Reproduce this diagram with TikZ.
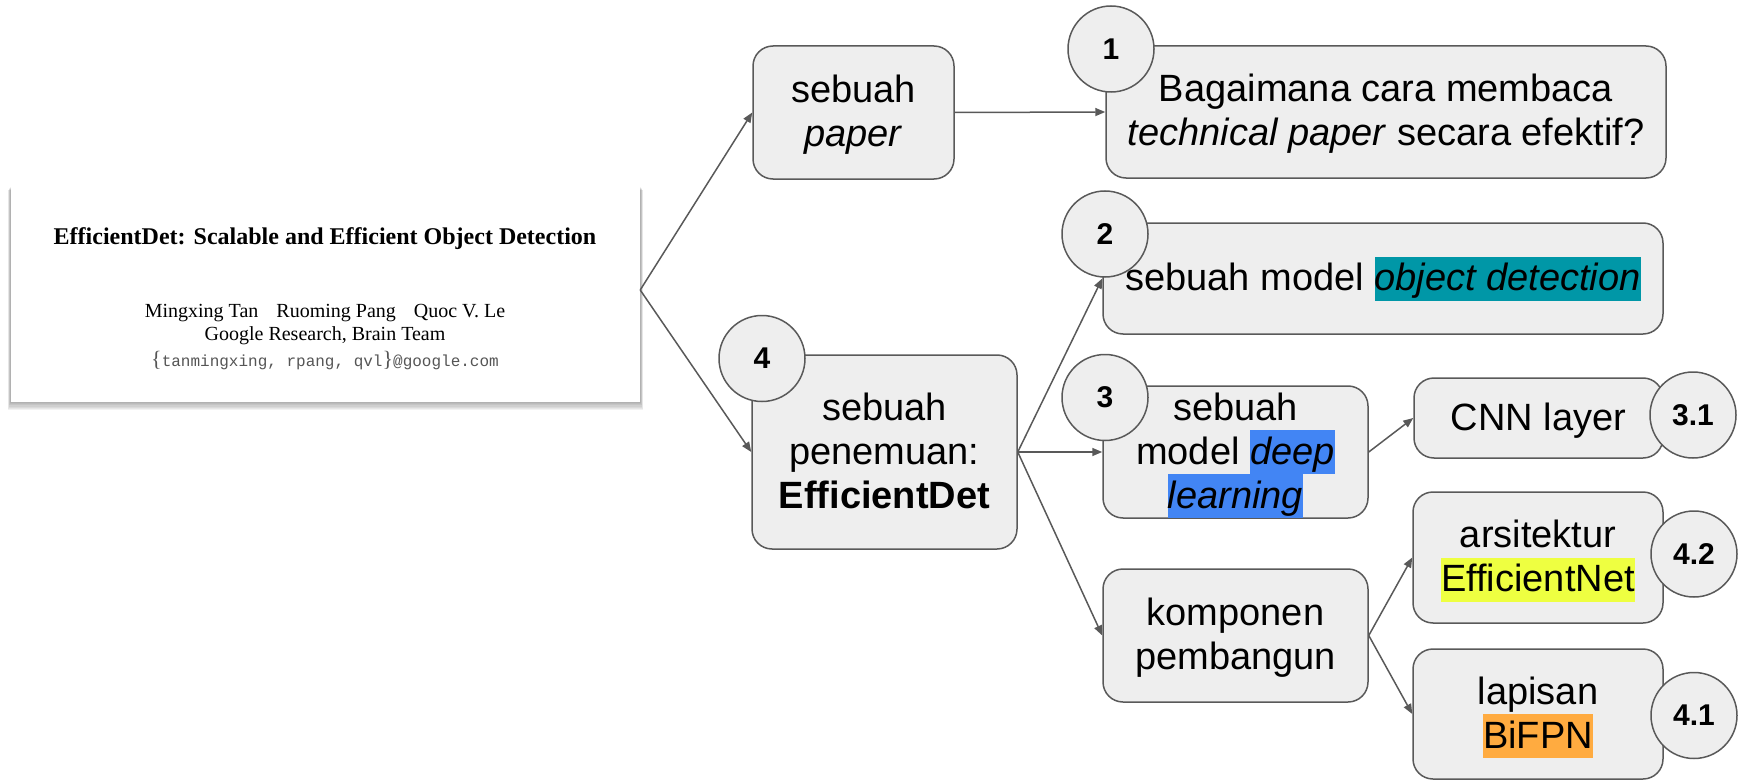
\documentclass[tikz,border=0pt]{standalone}
\usepackage{fontspec}
\setmainfont{Liberation Sans}
\newfontfamily\paperserif{Liberation Serif}
\newfontfamily\papermono{Liberation Mono}
\usetikzlibrary{arrows.meta}
\definecolor{boxfill}{HTML}{EEEEEE}
\definecolor{boxline}{HTML}{595959}
\definecolor{hlteal}{HTML}{0097A7}
\definecolor{hlblue}{HTML}{4285F4}
\definecolor{hlyellow}{HTML}{EEFF41}
\definecolor{hlorange}{HTML}{FFAB40}
\definecolor{papergray}{HTML}{555555}
\newcommand{\gs}{\rule[-10pt]{0pt}{44pt}}
\newcommand{\hlt}[2]{{\setlength{\fboxsep}{0pt}\colorbox{#1}{\gs#2}}}
\begin{document}
\begin{tikzpicture}[x=1pt,y=-1pt,
  card/.style={draw=boxline, fill=boxfill, line width=1.5pt, rounded corners=20pt,
    inner sep=0pt, align=center, font=\fontsize{38}{44}\selectfont},
  badge/.style={circle, draw=boxline, fill=boxfill, line width=1.5pt,
    minimum size=86pt, inner sep=0pt, font=\bfseries\fontsize{30}{34}\selectfont},
  link/.style={draw=boxline, line width=1.5pt, -{Triangle[length=10pt,width=8pt]}},
  papertext/.style={inner sep=0pt, align=center}]
\useasboundingbox (0,0) rectangle (1743,781);

% paper thumbnail with soft shadow
\foreach \k in {1,...,8}{
  \fill[black, opacity=0.05] (11-\k*0.4,186+\k*0.5) rectangle (640+\k*0.4,401+\k*1.1);
}
\node[fill=white, minimum width=629pt, minimum height=224pt, inner sep=0pt]
  (paper) at (325.5,290) {};
\node[papertext, font=\paperserif\bfseries\fontsize{24}{28}\selectfont] (ptitle) at (325,239)
  {EfficientDet: Scalable and Efficient Object Detection};
\node[papertext, font=\paperserif\fontsize{20}{24}\selectfont] (pauth) at (325,313)
  {Mingxing Tan\hspace{18pt}Ruoming Pang\hspace{18pt}Quoc V. Le};
\node[papertext, font=\paperserif\fontsize{20}{24}\selectfont] (paff) at (325,336)
  {Google Research, Brain Team};
\node[papertext, text=papergray, font=\papermono\fontsize{16}{20}\selectfont] (pmail) at (325,361)
  {{\paperserif\fontsize{22}{22}\selectfont\{}tanmingxing, rpang, qvl{\paperserif\fontsize{22}{22}\selectfont\}}@google.com};

% boxes
\node[card, minimum width=201pt, minimum height=133pt] (paperq) at (853.5,112.5)
  {\gs sebuah\\\gs\textit{paper}};
\node[card, minimum width=560pt, minimum height=132pt] (b1) at (1386,112)
  {\gs Bagaimana cara membaca\\\gs\textit{technical paper} secara efektif?};
\node[card, minimum width=560pt, minimum height=111pt] (b2) at (1383,278.5)
  {\gs sebuah model \hlt{hlteal}{\textit{object detection}}};
\node[card, minimum width=265pt, minimum height=194pt] (b4) at (884.5,452)
  {\gs sebuah\\\gs penemuan:\\\gs\textbf{EfficientDet}};
\node[card, minimum width=265pt, minimum height=132pt] (b3) at (1235.5,452)
  {\gs sebuah\\\gs model \hlt{hlblue}{\textit{deep}}\\\hlt{hlblue}{\textit{learning}}};
\node[card, minimum width=249pt, minimum height=80pt] (cnn) at (1538.5,418)
  {\gs CNN layer};
\node[card, minimum width=265pt, minimum height=133pt] (komp) at (1235.5,635.5)
  {\gs komponen\\\gs pembangun};
\node[card, minimum width=250pt, minimum height=131pt] (arsi) at (1538,557.5)
  {\gs arsitektur\\\hlt{hlyellow}{EfficientNet}};
\node[card, minimum width=250pt, minimum height=130pt] (lapi) at (1538,714)
  {\gs lapisan\\\hlt{hlorange}{BiFPN}};

% connectors
\draw[link] (paper.east) -- (paperq.west);
\draw[link] (paper.east) -- (b4.west);
\draw[link] (paperq.east) -- (b1.west);
\draw[link] (b4.east) -- (b2.west);
\draw[link] (b4.east) -- (b3.west);
\draw[link] (b4.east) -- (komp.west);
\draw[link] (b3.east) -- (cnn.west);
\draw[link] (komp.east) -- (arsi.west);
\draw[link] (komp.east) -- (lapi.west);

% number badges
\node[badge] (c1) at (1111,49) {1};
\node[badge] (c2) at (1105,234) {2};
\node[badge] (c4) at (762,358.5) {4};
\node[badge] (c3) at (1105,397.5) {3};
\node[badge] (c31) at (1693,415) {3.1};
\node[badge] (c42) at (1694,554) {4.2};
\node[badge] (c41) at (1694,715.5) {4.1};
\end{tikzpicture}
\end{document}
